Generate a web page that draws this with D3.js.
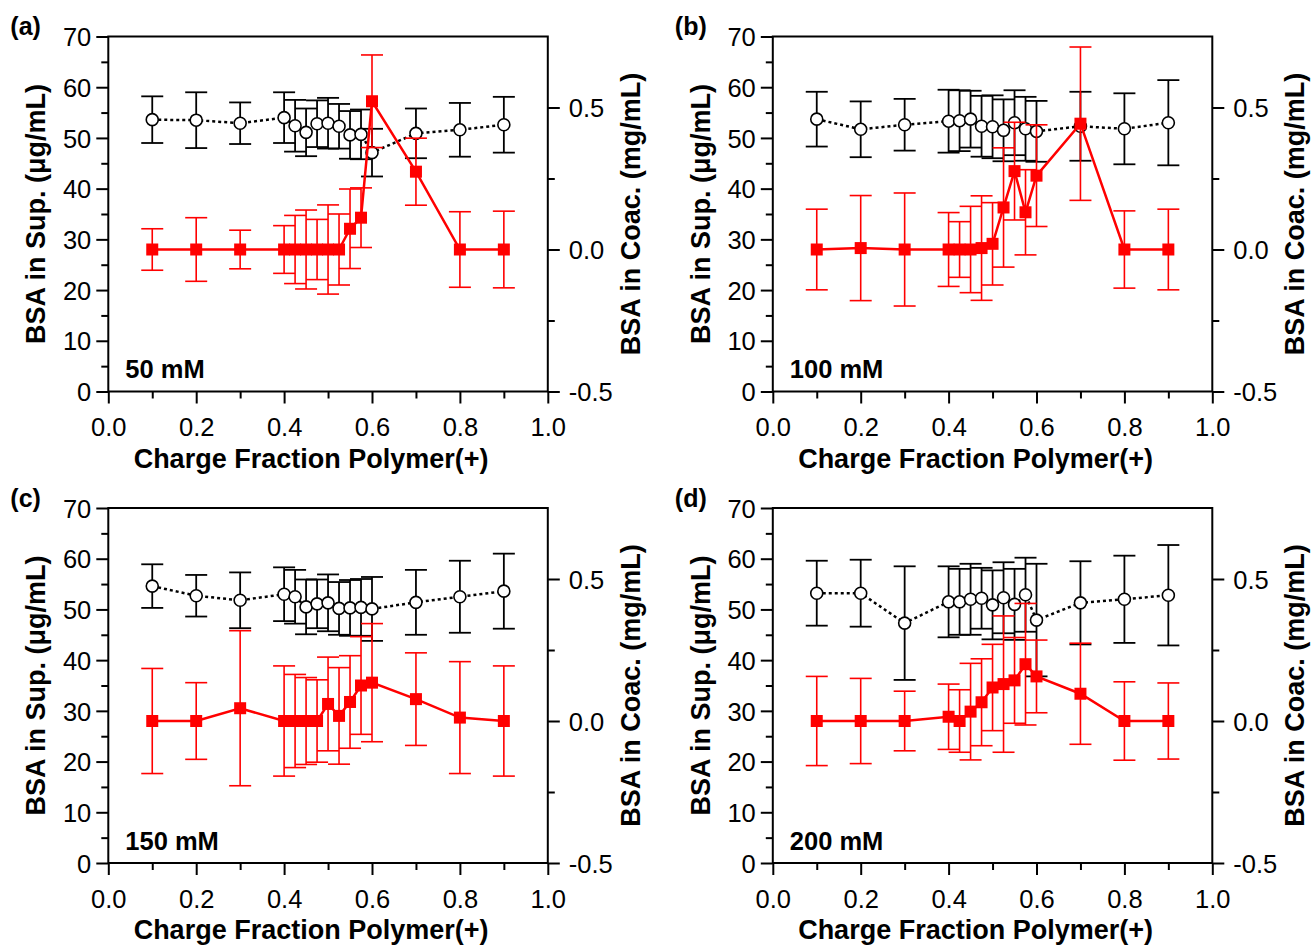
<!DOCTYPE html>
<html>
<head>
<meta charset="utf-8">
<script src="https://cdn.jsdelivr.net/npm/d3@7"></script>
<style>
  html, body { margin: 0; padding: 0; background: #fff; }
  svg { display: block; font-family: "Liberation Sans", Arial, sans-serif; }
</style>
</head>
<body>
<svg id="chart" width="1314" height="945"></svg>
<script>
// ---------------- DATA ----------------
const fractions = [0.1, 0.2, 0.3, 0.4, 0.425, 0.45, 0.475, 0.5, 0.525, 0.55, 0.575, 0.6, 0.7, 0.8, 0.9];

const panelLetters = ["(a)", "(b)", "(c)", "(d)"];
const saltLabels = ["50 mM", "100 mM", "150 mM", "200 mM"];

// BSA in supernatant (µg/mL), left axis
const supA = [53.6, 53.5, 52.9, 54.0, 52.4, 51.1, 52.8, 52.9, 52.3, 50.6, 50.7, 47.1, 50.9, 51.6, 52.6];
const supErrA = [4.6, 5.5, 4.1, 5.0, 5.1, 4.7, 4.6, 5.0, 4.4, 4.7, 4.9, 4.7, 4.9, 5.3, 5.5];
const supB = [53.7, 51.7, 52.6, 53.3, 53.4, 53.7, 52.3, 52.2, 51.5, 53.0, 51.8, 51.3, 52.3, 51.8, 53.0];
const supErrB = [5.4, 5.5, 5.1, 6.2, 6.0, 5.6, 6.0, 6.2, 6.1, 6.4, 6.3, 6.0, 6.8, 7.0, 8.4];
const supC = [54.6, 52.7, 51.8, 53.0, 52.5, 50.5, 51.1, 51.3, 50.2, 50.3, 50.4, 50.1, 51.4, 52.5, 53.6];
const supErrC = [4.3, 4.1, 5.5, 5.3, 5.3, 5.4, 4.8, 5.6, 5.2, 5.5, 5.6, 6.3, 6.4, 7.1, 7.4];
const supD = [53.2, 53.2, 47.3, 51.5, 51.5, 52.0, 52.2, 50.9, 52.3, 51.0, 52.9, 47.9, 51.3, 52.0, 52.8];
const supErrD = [6.4, 6.6, 11.2, 7.0, 6.5, 7.0, 6.0, 6.8, 7.0, 7.0, 7.3, 11.1, 8.2, 8.6, 9.9];

// BSA in coacervate (mg/mL), right axis
const coacA = [0, 0, 0, 0, 0, 0, 0, 0, 0, 0.073, 0.112, 0.522, 0.274, 0, 0];
const coacErrA = [0.073, 0.112, 0.068, 0.084, 0.12, 0.139, 0.106, 0.157, 0.125, 0.14, 0.105, 0.163, 0.118, 0.133, 0.135];
const coacB = [0, 0.005, 0, 0, 0, 0, 0.005, 0.02, 0.148, 0.276, 0.131, 0.26, 0.443, 0, 0];
const coacErrB = [0.142, 0.185, 0.199, 0.13, 0.098, 0.152, 0.184, 0.145, 0.21, 0.172, 0.15, 0.179, 0.27, 0.136, 0.142];
const coacC = [0, 0, 0.045, 0, 0, 0, 0, 0.06, 0.018, 0.067, 0.125, 0.135, 0.077, 0.012, 0];
const coacErrC = [0.185, 0.135, 0.273, 0.194, 0.164, 0.153, 0.145, 0.165, 0.17, 0.163, 0.172, 0.208, 0.163, 0.197, 0.194];
const coacD = [0, 0, 0, 0.015, 0, 0.033, 0.066, 0.118, 0.13, 0.143, 0.2, 0.157, 0.096, 0, 0];
const coacErrD = [0.157, 0.15, 0.105, 0.115, 0.11, 0.17, 0.153, 0.152, 0.24, 0.151, 0.214, 0.128, 0.178, 0.138, 0.134];

// axes
const xDomain = [0, 1.0];
const xMajorTicks = [0.0, 0.2, 0.4, 0.6, 0.8, 1.0];
const xMinorTicks = [0.1, 0.3, 0.5, 0.7, 0.9];
const yLeftDomain = [0, 70];
const yLeftMajorTicks = [0, 10, 20, 30, 40, 50, 60, 70];
const yLeftMinorTicks = [5, 15, 25, 35, 45, 55, 65];
const yRightDomain = [-0.5, 0.75];
const yRightMajorTicks = [-0.5, 0.0, 0.5];
const yRightMinorTicks = [-0.25, 0.25];

const xTitle = "Charge Fraction Polymer(+)";
const yLeftTitle = "BSA in Sup. (μg/mL)";
const yRightTitle = "BSA in Coac. (mg/mL)";

const panelsData = [
  { sup: supA, supErr: supErrA, coac: coacA, coacErr: coacErrA },
  { sup: supB, supErr: supErrB, coac: coacB, coacErr: coacErrB },
  { sup: supC, supErr: supErrC, coac: coacC, coacErr: coacErrC },
  { sup: supD, supErr: supErrD, coac: coacD, coacErr: coacErrD }
];

// ---------------- LAYOUT ----------------
const plotW = 439.5, plotH = 355;
const origins = [[108.3, 36.5], [772.8, 36.5], [108.3, 508], [772.8, 508]];
const RED = "#ff0000";
const TICK_FS = 25.5, TITLE_FS = 27;
const fmt1 = d => d.toFixed(1);

const svg = d3.select("#chart");

panelsData.forEach((p, i) => {
  const [ox, oy] = origins[i];
  const g = svg.append("g").attr("transform", `translate(${ox},${oy})`);

  const x = d3.scaleLinear().domain(xDomain).range([0, plotW]);
  const yL = d3.scaleLinear().domain(yLeftDomain).range([plotH, 0]);
  const yR = d3.scaleLinear().domain(yRightDomain).range([plotH, 0]);

  const styleAxis = sel => {
    sel.select(".domain").remove();
    sel.selectAll(".tick line").attr("stroke", "#000").attr("stroke-width", 2);
    sel.selectAll("text").attr("fill", "#000").style("font-size", TICK_FS + "px");
  };

  // bottom
  const gxMin = g.append("g").attr("transform", `translate(0,${plotH})`)
    .call(d3.axisBottom(x).tickValues(xMinorTicks).tickSize(7).tickFormat(""));
  styleAxis(gxMin);
  const gx = g.append("g").attr("transform", `translate(0,${plotH})`)
    .call(d3.axisBottom(x).tickValues(xMajorTicks).tickSize(12).tickFormat(fmt1));
  styleAxis(gx);
  gx.selectAll("text").attr("y", 44.5).attr("dy", 0);

  // left
  const gyMin = g.append("g").call(d3.axisLeft(yL).tickValues(yLeftMinorTicks).tickSize(7).tickFormat(""));
  styleAxis(gyMin);
  const gy = g.append("g").call(d3.axisLeft(yL).tickValues(yLeftMajorTicks).tickSize(12).tickFormat(d3.format("d")));
  styleAxis(gy);
  gy.selectAll("text").attr("x", -17).attr("dy", "0.36em");

  // right
  const gyrMin = g.append("g").attr("transform", `translate(${plotW},0)`)
    .call(d3.axisRight(yR).tickValues(yRightMinorTicks).tickSize(7).tickFormat(""));
  styleAxis(gyrMin);
  const gyr = g.append("g").attr("transform", `translate(${plotW},0)`)
    .call(d3.axisRight(yR).tickValues(yRightMajorTicks).tickSize(12).tickFormat(fmt1));
  styleAxis(gyr);
  gyr.selectAll("text").attr("x", 21).attr("dy", "0.36em");

  // frame
  g.append("rect").attr("x", 0).attr("y", 0).attr("width", plotW).attr("height", plotH)
    .attr("fill", "none").attr("stroke", "#000").attr("stroke-width", 2);

  // titles
  g.append("text").attr("x", plotW / 2 - 17).attr("y", plotH + 76)
    .attr("text-anchor", "middle").attr("font-weight", "bold").style("font-size", TITLE_FS + "px")
    .text(xTitle);
  g.append("text").attr("transform", `translate(-63,${plotH / 2}) rotate(-90)`)
    .attr("text-anchor", "middle").attr("font-weight", "bold").style("font-size", TITLE_FS + "px")
    .text(yLeftTitle);
  g.append("text").attr("transform", `translate(${plotW + 92},${plotH / 2}) rotate(-90)`)
    .attr("text-anchor", "middle").attr("font-weight", "bold").style("font-size", TITLE_FS + "px")
    .text(yRightTitle);

  g.append("text").attr("x", -98).attr("y", -1.5)
    .attr("font-weight", "bold").style("font-size", "25px").text(panelLetters[i]);
  g.append("text").attr("x", 17).attr("y", 341.5)
    .attr("font-weight", "bold").style("font-size", "25.5px").text(saltLabels[i]);

  const plot = g.append("g");
  const cap = 11;

  // supernatant series (black, open circles, dotted)
  const supPts = fractions.map((f, k) => ({ f, v: p.sup[k], e: p.supErr[k] }));
  const eb = plot.append("g").attr("stroke", "#000").attr("stroke-width", 1.8);
  supPts.forEach(d => {
    const cx = x(d.f), y1 = yL(d.v + d.e), y2 = yL(d.v - d.e);
    eb.append("line").attr("x1", cx).attr("x2", cx).attr("y1", y1).attr("y2", y2);
    eb.append("line").attr("x1", cx - cap).attr("x2", cx + cap).attr("y1", y1).attr("y2", y1);
    eb.append("line").attr("x1", cx - cap).attr("x2", cx + cap).attr("y1", y2).attr("y2", y2);
  });
  plot.append("path").datum(supPts)
    .attr("d", d3.line().x(d => x(d.f)).y(d => yL(d.v)))
    .attr("fill", "none").attr("stroke", "#000").attr("stroke-width", 2.5)
    .attr("stroke-dasharray", "3,3");
  plot.append("g").selectAll("circle").data(supPts).join("circle")
    .attr("cx", d => x(d.f)).attr("cy", d => yL(d.v)).attr("r", 6)
    .attr("fill", "#fff").attr("stroke", "#000").attr("stroke-width", 1.6);

  // coacervate series (red, filled squares, solid)
  const coPts = fractions.map((f, k) => ({ f, v: p.coac[k], e: p.coacErr[k] }));
  const ebr = plot.append("g").attr("stroke", RED).attr("stroke-width", 1.6);
  coPts.forEach(d => {
    const cx = x(d.f), y1 = yR(d.v + d.e), y2 = yR(d.v - d.e);
    ebr.append("line").attr("x1", cx).attr("x2", cx).attr("y1", y1).attr("y2", y2);
    ebr.append("line").attr("x1", cx - cap).attr("x2", cx + cap).attr("y1", y1).attr("y2", y1);
    ebr.append("line").attr("x1", cx - cap).attr("x2", cx + cap).attr("y1", y2).attr("y2", y2);
  });
  plot.append("path").datum(coPts)
    .attr("d", d3.line().x(d => x(d.f)).y(d => yR(d.v)))
    .attr("fill", "none").attr("stroke", RED).attr("stroke-width", 2.5);
  plot.append("g").selectAll("rect").data(coPts).join("rect")
    .attr("x", d => x(d.f) - 6).attr("y", d => yR(d.v) - 6)
    .attr("width", 12).attr("height", 12).attr("fill", RED);
});
</script>
</body>
</html>
